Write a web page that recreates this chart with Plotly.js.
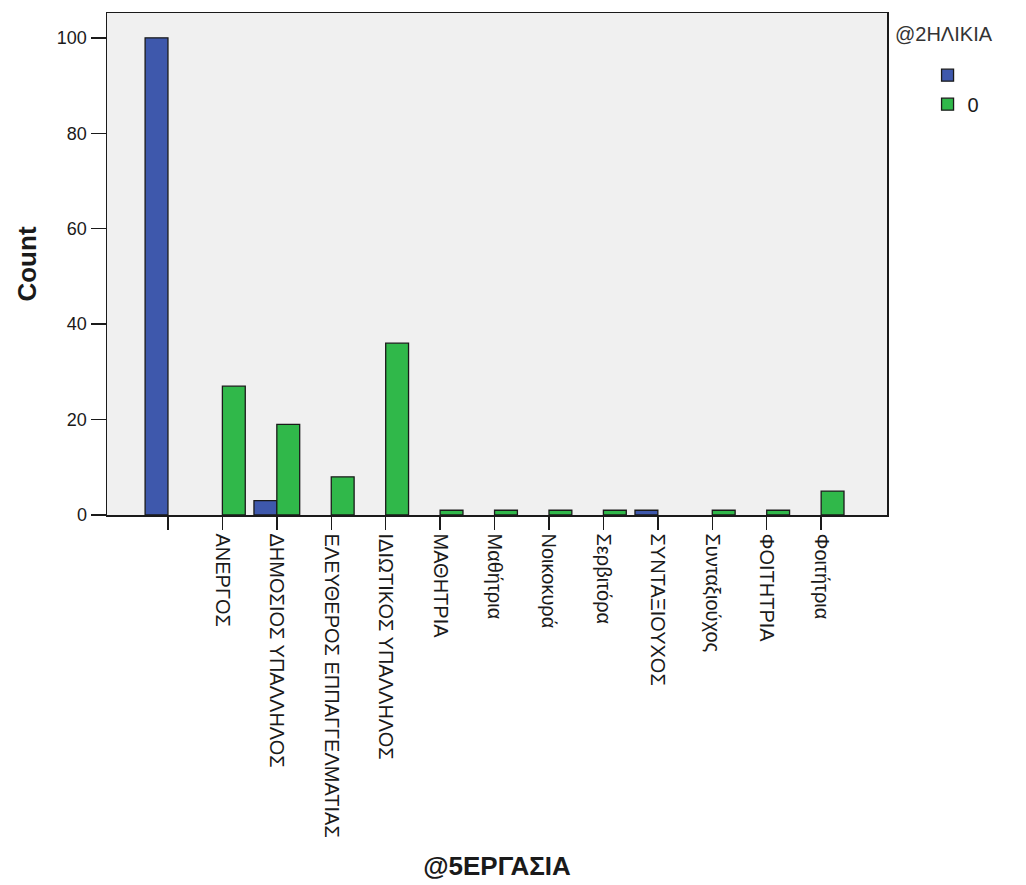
<!DOCTYPE html>
<html>
<head>
<meta charset="utf-8">
<script src="https://cdn.plot.ly/plotly-3.0.1.min.js"></script>
<style>
  html, body { margin: 0; padding: 0; background: #ffffff; }
  #chart { width: 1026px; height: 885px; }
</style>
</head>
<body>
<div id="chart"></div>
<script>
// Categories of @5ΕΡΓΑΣΙΑ (the first one is blank in the source data)
const categories = [
  "",
  "ΑΝΕΡΓΟΣ",
  "ΔΗΜΟΣΙΟΣ ΥΠΑΛΛΗΛΟΣ",
  "ΕΛΕΥΘΕΡΟΣ ΕΠΠΑΓΓΕΛΜΑΤΙΑΣ",
  "ΙΔΙΩΤΙΚΟΣ ΥΠΑΛΛΗΛΟΣ",
  "ΜΑΘΗΤΡΙΑ",
  "Μαθήτρια",
  "Νοικοκυρά",
  "Σερβιτόρα",
  "ΣΥΝΤΑΞΙΟΥΧΟΣ",
  "Συνταξιούχος",
  "ΦΟΙΤΗΤΡΙΑ",
  "Φοιτήτρια"
];

// @2ΗΛΙΚΙΑ groups (null = no cases, no bar drawn)
const seriesNames = ["", "0"];
const blankAgeCounts = [100, null, 3, null, null, null, null, null, null, 1, null, null, null];
const zeroAgeCounts  = [null, 27, 19, 8, 36, 1, 1, 1, 1, null, 1, 1, 5];
const seriesColors = ["#3e58ac", "#30b84a"];

const yTicks = [0, 20, 40, 60, 80, 100];

const xIdx = categories.map((c, i) => i);

const FONT = "'Liberation Sans', Arial, sans-serif";

const mk = (vals, i) => ({
  type: "bar",
  name: seriesNames[i],
  x: xIdx,
  y: vals,
  marker: { color: seriesColors[i], line: { color: "#1a1a1a", width: 1.3 } },
  hoverinfo: "x+y+name"
});

const data = [mk(blankAgeCounts, 0), mk(zeroAgeCounts, 1)];

const layout = {
  width: 1026,
  height: 885,
  margin: { l: 107, r: 139, t: 13, b: 370, pad: 0 },
  paper_bgcolor: "#ffffff",
  plot_bgcolor: "#f0f0f0",
  barmode: "group",
  bargap: 0.16,
  bargroupgap: 0,
  font: { family: FONT, color: "#1a1a1a", size: 18 },
  showlegend: true,
  legend: {
    x: 1.052, xanchor: "left",
    y: 0.915, yanchor: "top",
    font: { family: FONT, size: 20, color: "#1a1a1a" },
    tracegroupgap: 0,
    itemwidth: 30,
    bgcolor: "rgba(0,0,0,0)",
    traceorder: "normal"
  },
  annotations: [{
    text: "@2ΗΛΙΚΙΑ",
    xref: "paper", yref: "paper",
    x: 1.008, y: 0.985, xanchor: "left", yanchor: "top",
    showarrow: false,
    font: { family: FONT, size: 20, color: "#333333" }
  }],
  xaxis: {
    type: "linear",
    range: [-1.12, 13.21],
    tickmode: "array",
    tickvals: xIdx,
    ticktext: categories,
    tickangle: 90,
    ticks: "outside",
    ticklen: 13,
    tickwidth: 1.5,
    tickcolor: "#1a1a1a",
    tickfont: { family: FONT, size: 20, color: "#1a1a1a" },
    showline: true,
    linecolor: "#1a1a1a",
    linewidth: 1.5,
    mirror: true,
    showgrid: false,
    zeroline: false,
    title: { text: "@5ΕΡΓΑΣΙΑ", font: { family: FONT, size: 26, color: "#1a1a1a", weight: "bold" }, standoff: 20 }
  },
  yaxis: {
    range: [0, 105.2],
    tickmode: "array",
    tickvals: yTicks,
    ticktext: yTicks.map(String),
    ticks: "outside",
    ticklen: 15,
    tickwidth: 1.5,
    tickcolor: "#1a1a1a",
    tickfont: { family: FONT, size: 18, color: "#1a1a1a" },
    showline: true,
    linecolor: "#1a1a1a",
    linewidth: 1.5,
    mirror: true,
    showgrid: false,
    zeroline: false,
    title: { text: "Count", font: { family: FONT, size: 26, color: "#1a1a1a", weight: "bold" }, standoff: 13 }
  }
};

Plotly.newPlot("chart", data, layout, { displayModeBar: false, staticPlot: true });
</script>
</body>
</html>
